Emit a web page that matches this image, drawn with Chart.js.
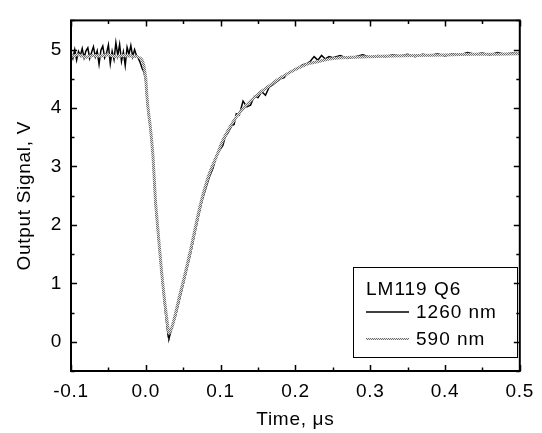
<!DOCTYPE html>
<html>
<head>
<meta charset="utf-8">
<script src="https://cdn.jsdelivr.net/npm/chart.js"></script>
<style>
  html, body { margin: 0; padding: 0; background: #fff; }
  #wrap { width: 542px; height: 433px; }
</style>
</head>
<body>
<div id="wrap"><canvas id="chart" width="542" height="433"></canvas></div>
<script>
// time in microseconds, signal in volts
const time1260 = [
  -0.1000, -0.0975, -0.0950, -0.0925, -0.0900, -0.0875, -0.0850, -0.0825, -0.0800, -0.0775,
  -0.0750, -0.0725, -0.0700, -0.0675, -0.0650, -0.0625, -0.0600, -0.0575, -0.0550, -0.0525,
  -0.0500, -0.0475, -0.0450, -0.0425, -0.0400, -0.0375, -0.0350, -0.0325, -0.0300, -0.0275,
  -0.0250, -0.0225, -0.0200, -0.0175, -0.0150, -0.0125, -0.0100, -0.0075, -0.0050, -0.0025,
  0.000, 0.001, 0.003, 0.006, 0.0095, 0.013, 0.017, 0.021, 0.025, 0.028,
  0.030, 0.031, 0.033, 0.036, 0.040, 0.045, 0.050, 0.055, 0.060, 0.065,
  0.070, 0.075, 0.080, 0.085, 0.090, 0.095, 0.100, 0.103, 0.106, 0.110,
  0.115, 0.118, 0.121, 0.125, 0.130, 0.135, 0.140, 0.145, 0.150, 0.155,
  0.160, 0.165, 0.170, 0.175, 0.180, 0.185, 0.190, 0.195, 0.200, 0.205,
  0.210, 0.215, 0.220, 0.225, 0.230, 0.235, 0.240, 0.245, 0.250, 0.260,
  0.270, 0.280, 0.290, 0.300, 0.310, 0.320, 0.330, 0.340, 0.350, 0.360,
  0.370, 0.380, 0.390, 0.400, 0.410, 0.420, 0.430, 0.440, 0.450, 0.460,
  0.470, 0.480, 0.490, 0.500
];
const signal1260 = [
  4.95, 4.85, 5.00, 4.82, 4.97, 4.90, 5.02, 4.86, 4.98, 5.03,
  4.85, 4.95, 5.05, 4.88, 4.98, 4.75, 4.99, 5.06, 4.86, 4.94,
  5.08, 4.76, 4.97, 4.83, 5.12, 4.90, 5.09, 4.80, 4.96, 4.73,
  5.04, 4.92, 5.07, 4.88, 5.00, 4.90, 4.85, 4.78, 4.68, 4.62,
  4.45, 4.25, 3.95, 3.66, 3.18, 2.35, 1.75, 1.18, 0.65, 0.30,
  0.08, 0.06, 0.15, 0.28, 0.45, 0.72, 0.98, 1.25, 1.52, 1.82,
  2.12, 2.40, 2.62, 2.82, 2.98, 3.20, 3.30, 3.36, 3.50, 3.58,
  3.70, 3.72, 3.90, 3.88, 4.12, 4.02, 4.05, 4.20, 4.18, 4.28,
  4.22, 4.36, 4.40, 4.45, 4.50, 4.52, 4.60, 4.62, 4.67, 4.70,
  4.74, 4.76, 4.80, 4.88, 4.82, 4.90, 4.84, 4.88, 4.86, 4.90,
  4.85, 4.88, 4.91, 4.87, 4.90, 4.88, 4.91, 4.89, 4.92, 4.88,
  4.92, 4.90, 4.93, 4.89, 4.93, 4.91, 4.95, 4.92, 4.94, 4.91,
  4.95, 4.92, 4.94, 4.93
];

const time590 = [
  -0.100, -0.090, -0.080, -0.070, -0.060, -0.050, -0.040, -0.030, -0.020, -0.012,
  -0.006, -0.003, 0.000, 0.001, 0.003, 0.006, 0.0095, 0.013, 0.017, 0.021,
  0.025, 0.028, 0.031, 0.035, 0.040, 0.045, 0.050, 0.055, 0.060, 0.065,
  0.070, 0.075, 0.080, 0.085, 0.090, 0.096, 0.102, 0.110, 0.120, 0.130,
  0.140, 0.152, 0.165, 0.178, 0.191, 0.205, 0.218, 0.235, 0.253, 0.275,
  0.300, 0.330, 0.360, 0.400, 0.440, 0.470, 0.500
];
const signal590 = [
  4.88, 4.91, 4.87, 4.90, 4.89, 4.91, 4.88, 4.90, 4.89, 4.88,
  4.84, 4.75, 4.50, 4.30, 4.00, 3.68, 3.20, 2.40, 1.80, 1.22,
  0.72, 0.40, 0.15, 0.25, 0.50, 0.78, 1.03, 1.30, 1.58, 1.88,
  2.18, 2.45, 2.68, 2.88, 3.04, 3.22, 3.42, 3.62, 3.83, 3.99,
  4.12, 4.26, 4.38, 4.50, 4.60, 4.69, 4.76, 4.81, 4.85, 4.87,
  4.88, 4.89, 4.90, 4.91, 4.92, 4.92, 4.93
];

const xTicks = [-0.1, 0.0, 0.1, 0.2, 0.3, 0.4, 0.5];
const yTicks = [0, 1, 2, 3, 4, 5];
const legendTitle = "LM119 Q6";
const seriesNames = ["1260 nm", "590 nm"];

const FONT = "'Liberation Sans', Arial, sans-serif";

// stippled grey like the printed trace
function makeStipple() {
  const c = document.createElement('canvas');
  c.width = 2; c.height = 2;
  const g = c.getContext('2d');
  g.fillStyle = '#e4e4e4';
  g.fillRect(0, 0, 2, 2);
  g.fillStyle = '#707070';
  g.fillRect(0, 0, 1, 1);
  g.fillRect(1, 1, 1, 1);
  return g.createPattern(c, 'repeat');
}
const stipple = makeStipple();

function toPoints(xs, ys) {
  return xs.map((x, i) => ({ x: x, y: ys[i] }));
}

// the printed lettering is a bit wider than Arial
const wideText = {
  id: 'wideText',
  beforeDraw(chart) { chart.ctx.letterSpacing = '0.7px'; },
  afterDraw(chart) { chart.ctx.letterSpacing = '0px'; }
};

// frame with inward ticks on all four sides
const frameTicks = {
  id: 'frameTicks',
  afterDatasetsDraw(chart) {
    const { ctx, chartArea: a, scales } = chart;
    const xs = scales.x, ys = scales.y;
    ctx.save();
    ctx.strokeStyle = '#000';
    ctx.lineWidth = 1.5;
    ctx.beginPath();
    for (let i = 0; i <= 12; i++) {
      const v = -0.1 + i * 0.05;
      const px = Math.round(xs.getPixelForValue(v)) + 0.5;
      const len = i % 2 === 0 ? 6 : 3.5;
      ctx.moveTo(px, a.bottom); ctx.lineTo(px, a.bottom - len);
      ctx.moveTo(px, a.top); ctx.lineTo(px, a.top + len);
    }
    for (let i = 0; i <= 12; i++) {
      const v = -0.5 + i * 0.5;
      const py = Math.round(ys.getPixelForValue(v)) + 0.5;
      const len = i % 2 === 1 ? 6 : 3.5;
      ctx.moveTo(a.left, py); ctx.lineTo(a.left + len, py);
      ctx.moveTo(a.right, py); ctx.lineTo(a.right - len, py);
    }
    ctx.stroke();
    ctx.lineWidth = 2;
    ctx.strokeRect(a.left, a.top, a.right - a.left, a.bottom - a.top);
    ctx.restore();
  }
};

// boxed legend inside the plot, lower right
const boxLegend = {
  id: 'boxLegend',
  afterDraw(chart) {
    const { ctx } = chart;
    const ds = chart.data.datasets;
    ctx.save();
    ctx.letterSpacing = '1px';
    ctx.strokeStyle = '#000';
    ctx.lineWidth = 1;
    ctx.strokeRect(353.5, 267.5, 164, 90);
    ctx.fillStyle = '#000';
    ctx.font = '19px ' + FONT;
    ctx.textBaseline = 'middle';
    ctx.textAlign = 'left';
    ctx.fillText(legendTitle, 366, 290);
    const rows = [312, 339];
    ds.forEach((d, i) => {
      ctx.beginPath();
      ctx.strokeStyle = d.borderColor;
      ctx.lineWidth = i === 0 ? 1.5 : 2;
      ctx.moveTo(366, rows[i]);
      ctx.lineTo(409, rows[i]);
      ctx.stroke();
      ctx.fillText(d.label, 416, rows[i] + 1);
    });
    ctx.restore();
  }
};

new Chart(document.getElementById('chart'), {
  type: 'line',
  data: {
    datasets: [
      {
        label: seriesNames[0],
        data: toPoints(time1260, signal1260),
        borderColor: '#000',
        borderWidth: 1.5,
        pointRadius: 0,
        tension: 0,
        order: 2
      },
      {
        label: seriesNames[1],
        data: toPoints(time590, signal590),
        borderColor: stipple,
        borderWidth: 3,
        pointRadius: 0,
        tension: 0.2,
        order: 1
      }
    ]
  },
  options: {
    responsive: false,
    animation: false,
    layout: { padding: { left: 0, top: 9, right: 20, bottom: 0 } },
    plugins: {
      legend: { display: false },
      tooltip: { enabled: false }
    },
    scales: {
      x: {
        type: 'linear',
        min: -0.1,
        max: 0.5,
        afterBuildTicks: s => { s.ticks = xTicks.map(v => ({ value: v })); },
        afterFit: s => { s.height = 62; },
        grid: { display: false, drawTicks: false },
        border: { display: false },
        ticks: {
          color: '#000',
          font: { family: FONT, size: 19 },
          padding: 9,
          maxRotation: 0,
          callback: v => v.toFixed(1)
        },
        title: {
          display: true,
          text: 'Time, μs',
          color: '#000',
          font: { family: FONT, size: 19 },
          padding: { top: 0, bottom: 2 }
        }
      },
      y: {
        type: 'linear',
        min: -0.5,
        max: 5.5,
        afterBuildTicks: s => { s.ticks = yTicks.map(v => ({ value: v })); },
        afterFit: s => { s.width = 71; },
        grid: { display: false, drawTicks: false },
        border: { display: false },
        ticks: {
          color: '#000',
          font: { family: FONT, size: 19 },
          padding: 9,
          callback: v => String(v)
        },
        title: {
          display: true,
          text: 'Output Signal, V',
          color: '#000',
          font: { family: FONT, size: 19 },
          padding: { top: 13, bottom: 0 }
        }
      }
    }
  },
  plugins: [wideText, frameTicks, boxLegend]
});
</script>
</body>
</html>
